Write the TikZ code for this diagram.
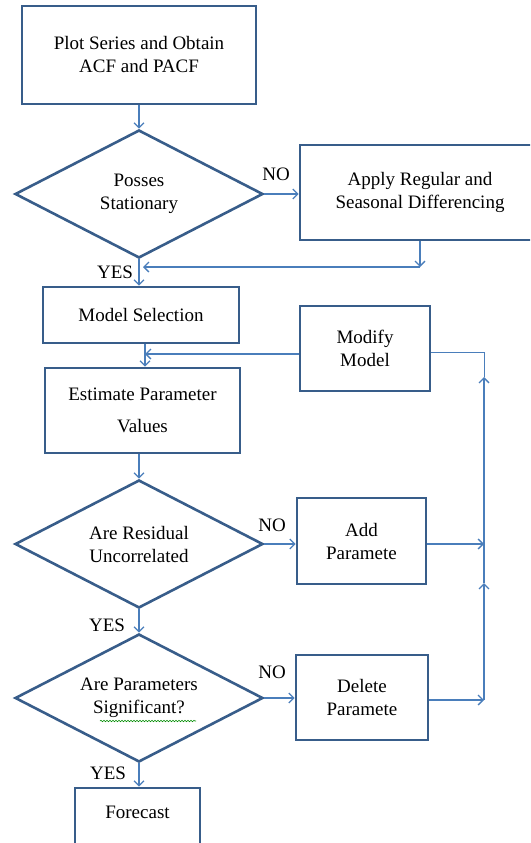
\documentclass[tikz,border=0pt]{standalone}
\usepackage{fontspec}
\setmainfont{Liberation Serif}
\usetikzlibrary{arrows.meta, shapes.geometric, positioning, decorations.pathmorphing}
\definecolor{colorBorder}{HTML}{385D8A}
\definecolor{colorFlow}{HTML}{4A7EBB}
\tikzset{
  procbox/.style={draw=colorBorder, line width=2.6pt, rectangle, align=center, inner sep=0pt},
  decision/.style={draw=colorBorder, line width=2.6pt, diamond, aspect=1.94, align=center, inner sep=0pt,
    minimum width=248pt, minimum height=128pt},
  flow/.style={draw=colorFlow, line width=1.3pt, -{Straight Barb[length=5pt,width=10pt]}},
  backline/.style={draw=colorFlow, line width=1pt},
  answer/.style={inner sep=0pt}
}

\begin{document}
\begin{tikzpicture}[x=1pt, y=-1pt, font=\fontsize{19}{23}\selectfont]
\clip (0,0) rectangle (530,843);
% boxes and decisions
\node[procbox, minimum width=234pt, minimum height=98pt] (plot) at (139,55) {Plot Series and Obtain\\ACF and PACF};
\node[decision] (stat) at (139,194) {Posses\\Stationary};
\node[procbox, minimum width=240pt, minimum height=95pt] (diff) at (420,192.5) {Apply Regular and\\Seasonal Differencing};
\node[procbox, minimum width=196pt, minimum height=56pt] (sel) at (141,315) {Model Selection};
\node[procbox, minimum width=130pt, minimum height=85pt] (modify) at (365,348.5) {Modify\\Model};
\node[procbox, minimum width=195pt, minimum height=85pt] (est) at (142.5,410.5) {Estimate Parameter\\[9pt]Values};
\node[decision] (resid) at (139,544) {Are Residual\\Uncorrelated};
\node[procbox, minimum width=129pt, minimum height=86pt] (add) at (361.5,541) {Add\\Paramete};
\node[decision] (signif) at (139,698) {Are Parameters\\Significant?};
\node[procbox, minimum width=132pt, minimum height=85pt] (delete) at (362,697.5) {Delete\\Paramete};
\node[procbox, minimum width=125pt, minimum height=62pt, text depth=14pt] (fcast) at (137.5,819) {Forecast};

% join points
\coordinate (merge) at (143,267);
\coordinate (join) at (145,354);
\coordinate (rtop) at (484,352);
\coordinate (rup) at (484,377);
\coordinate (rmid) at (484,583);
\coordinate (rdel) at (484,700);

% connectors
\draw[flow] (plot) -- (stat);
\draw[flow] (stat) -- (diff.west |- stat);
\draw[flow] (diff.south) -- (diff.south |- merge);
\draw[flow] (diff.south |- merge) -- (merge);
\draw[flow] (stat.south) -- (sel.north -| stat.south);
\draw[flow] (sel.south -| join) -- (est.north -| join);
\draw[flow] (modify.west |- join) -- (join);
\draw[flow] (est.south -| resid.north) -- (resid.north);
\draw[flow] (resid.east) -- (add.west |- resid.east);
\draw[flow] (resid.south) -- (signif.north);
\draw[flow] (signif.east) -- (delete.west |- signif.east);
\draw[flow] (signif.south) -- (fcast.north -| signif.south);
\draw[flow] (add.east |- resid.east) -- (rdel |- resid.east);
\draw[flow] (delete.east |- rdel) -- (rdel);
\draw[flow] (rdel) -- (rmid);
\draw[flow] (rmid) -- (rup);
\draw[backline] (rup) -- (rtop) -- (modify.east |- rtop);

% answers
\node[answer] (no1) at (276,174) {NO};
\node[answer] (yes1) at (115,272) {YES};
\node[answer] (no2) at (272,525) {NO};
\node[answer] (yes2) at (107,625) {YES};
\node[answer] (no3) at (272,672) {NO};
\node[answer] (yes3) at (108,773) {YES};

% spelling mark under Significant?
\draw[green!55!black, line width=0.6pt, decorate, decoration={snake, amplitude=0.7pt, segment length=3pt}]
  (100,721) -- (196,721);
\end{tikzpicture}
\end{document}
